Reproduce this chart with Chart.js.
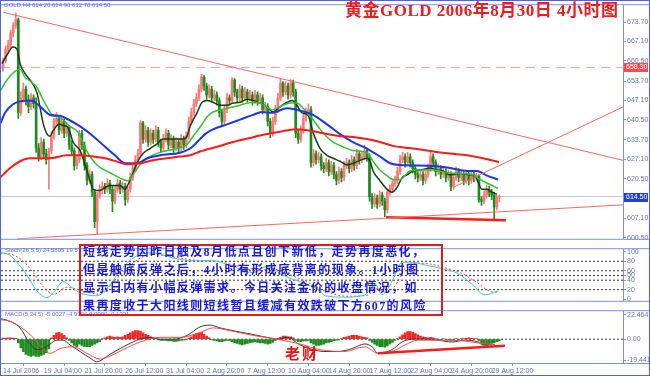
<!DOCTYPE html>
<html>
<head>
<meta charset="utf-8">
<script src="https://cdn.jsdelivr.net/npm/chart.js@4.4.1/dist/chart.umd.min.js"></script>
<style>
  html, body { margin: 0; padding: 0; background: #fff; }
  #wrap { position: relative; width: 650px; height: 376px; overflow: hidden; background: #fff; }
  #wrap canvas { position: absolute; left: 0; }
  .t { position: absolute; white-space: nowrap; }
  .small { font: 6px "Liberation Sans", sans-serif; color: #6575b8; line-height: 8px; }
  #title { left: 345px; top: 2px; font: bold 17px/17px "Liberation Serif", "Noto Sans CJK SC", serif; color: #ee1c1c; letter-spacing: 0.5px; }
  #note { left: 79px; top: 244px; width: 360px; height: 68px; border: 2px solid #e51a1a; }
  .line { font: bold 12px/14px "Liberation Serif", "Noto Sans CJK SC", serif; color: #1a1ad6; letter-spacing: 1.4px; left: 83px; }
  #sign { left: 285px; top: 345px; font: bold 15px/16px "Noto Sans CJK SC", sans-serif; color: #ee1010; letter-spacing: 2px; }
  #frame { position: absolute; left: 0; top: 0; width: 648px; height: 374px; border: 1px solid #4b63e8; pointer-events: none; }
</style>
</head>
<body>
<div id="wrap">
  <canvas id="mainChart" width="650" height="244" style="top:0"></canvas>
  <canvas id="stochChart" width="650" height="62" style="top:244px"></canvas>
  <canvas id="macdChart" width="650" height="70" style="top:306px"></canvas>

  <div class="t small" style="left:4px;top:1px">GOLD,H4 614.20 614.90 612.70 614.50</div>
  <div class="t" id="title">黄金GOLD 2006年8月30日 4小时图</div>
  <div class="t small" style="left:5px;top:246px;width:73px;overflow:hidden">Stoch(26,5,5) 24.5805 19.5053</div>
  <div class="t small" style="left:5px;top:310px">MACD(5,34,5) -5.0027 -4.9304 0.0000 -0.1331</div>
  <div class="t" id="note"></div>
  <div class="t line" style="top:245px">短线走势因昨日触及8月低点且创下新低，走势再度恶化，</div>
  <div class="t line" style="top:263px">但是触底反弹之后，4小时有形成底背离的现象。1小时图</div>
  <div class="t line" style="top:281px">显示日内有小幅反弹需求。今日关注金价的收盘情况，如</div>
  <div class="t line" style="top:299px">果再度收于大阳线则短线暂且缓减有效跌破下方607的风险</div>
  <div class="t" id="sign">老财</div>
  <div id="frame"></div>
</div>

<script>
// ---- 数据 ----
// K线 [开, 高, 低, 收]，每根4小时
const candles = [
  [658,661.5,657,660.5],[660.5,665.5,659.8,664.5],[664.5,667.5,663,666],[666,671,665,670],
  [670,673.5,668.5,672.5],[672.5,676.7,671.5,674.5],[674.5,675,641,643],[643,650,642,648],
  [648,653,646.5,651],[651,652,645.5,647],[647,649,643,645],[645,649.5,644,648],
  [648,649,644.5,646],[646,648,629.5,631],[631,632.5,626.5,628],[628,634.5,627,633],
  [633,634,627.5,629],[629,630.5,625.5,627],[627,631,617,630],[630,636.5,629,635],
  [635,641,634,640],[640,643,638.5,641],[641,642,635.5,637],[637,641.5,636,640],
  [640,641,634.5,636],[636,639.5,635,638],[638,638.5,630.5,632],[632,633.5,628.5,630],
  [630,631,623.5,625],[625,628.5,624,627],[627,637,626,636],[636,637,630.5,632],
  [632,633,623.5,625],[625,626,618.5,620],[620,623.5,619,622],[622,623,614.5,616],
  [616,617,604,606],[606,616,601.9,615],[615,618.5,614,617],[617,619.5,615.5,618],
  [618,619,615.5,617],[617,620.5,616,619],[619,620,615.5,617],[617,618,609.4,613],
  [613,618,612,617],[617,620.5,616,619],[619,620,615.5,617],[617,619.5,616,618],
  [618,619,611.5,613.5],[613.5,618,612.5,617],[617,622.5,616,621],[621,625.5,620,624],
  [624,628.5,623,627],[627,630.5,626,629],[629,640.2,628.5,639.5],[639.5,640,632.5,634],
  [634,638.5,633,637],[637,638,631.5,633],[633,637.5,632,636],[636,637,632.5,634],
  [634,638.5,633,637],[637,638,631.5,633],[633,634,629.5,631],[631,635.5,630,634],
  [634,637.5,633,636],[636,637,630.5,632],[632,635.5,631,634],[634,635,629.5,631],
  [631,634.5,630,633],[633,634,629.5,631],[631,635.5,630,634],[634,635,630.5,632],
  [632,636.5,631,635],[635,641.5,634,640],[640,644.5,639,643],[643,647.5,642,646],
  [646,649.5,645,648],[648,652.5,647,651],[651,656,650,655],[655,655.5,650.5,652],
  [652,653,647.5,649],[649,652.5,648,651],[651,652,646.5,648],[648,650.5,647,649],
  [649,650,645.5,647],[647,648,641.5,643],[643,644,638.5,640],[640,645.5,639,644],
  [644,649.5,643,648],[648,649,645.5,647],[647,654.8,646,654],[654,654.5,648.5,650],
  [650,651,646.5,648],[648,652.5,647,651],[651,652,646.5,648],[648,651.5,647,650],
  [650,651,646.5,648],[648,650.5,647,649],[649,650,645.5,647],[647,650.5,646,649],
  [649,650,645.5,647],[647,649.5,646,648],[648,649,642.5,644],[644,646.5,643,645],
  [645,646,638.5,640],[640,641,634.5,636],[636,641.5,635,640],[640,645.5,639,644],
  [644,649.5,643,648],[648,654.7,647,653],[653,653.5,648.5,650],[650,653.5,649,652],
  [652,653,647.5,649],[649,654.2,648,653],[653,654,648.5,650],[650,651,634.5,636],
  [636,637,632.5,634],[634,638.5,633,637],[637,642.5,636,641],[641,644.5,640,643],
  [643,646,642,644],[644,645,624.5,626],[626,630.5,625,629],[629,630,625.5,627],
  [627,629.5,626,628],[628,629,623.5,625],[625,626,622.5,624],[624,627.5,623,626],
  [626,627,621.5,623],[623,626.5,622,625],[625,626,620.5,622],[622,623,618.5,620],
  [620,624.5,619,623],[623,624,619.5,621],[621,626.5,620,625],[625,627.5,624,626],
  [626,627,622.5,624],[624,628.5,623,627],[627,628,623.5,625],[625,630.5,624,629],
  [629,630,625.5,627],[627,629.5,626,628],[628,632,627,630],[630,631,626.5,628],
  [628,629,613,614.5],[614.5,615.5,610.5,612],[612,615.5,611,614],[614,615,610.5,612],
  [612,616.5,611,615],[615,616,611.5,613],[613,614,607.7,610],[610,617,609,616],
  [616,618.5,615,617],[617,620.5,616,619],[619,621.5,618,620],[620,624.5,619,623],
  [623,628.5,622,627],[627,629.5,626,628],[628,629,624.5,626],[626,629.5,625,628],
  [628,629,624.5,626],[626,627,622.5,624],[624,625,620.5,622],[622,623,619.5,621],
  [621,623.5,620,622],[622,623,618.5,620],[620,623.5,619,622],[622,625.5,621,624],
  [624,629.5,623,628],[628,629,624.5,626],[626,627,621.5,623],[623,625.5,622,624],
  [624,625,620.5,622],[622,624.5,621,623],[623,624,619.5,621],[621,623.5,620,622],
  [622,623,616.5,618],[618,622.5,617,621],[621,624.5,620,623],[623,624,619.5,621],
  [621,623.5,620,622],[622,623,618.5,620],[620,623.5,619,622],[622,623,618.5,620],
  [620,623.5,619,622],[622,623,619.5,621],[621,622.5,620,621.5],[621.5,622,612.5,613.5],
  [613.5,614.5,611.5,613],[613,616.5,612,615],[615,618.5,614,617],[617,618,614.5,616],
  [616,617,613.5,615],[615,616,606.7,611],[611,615,610,614.2],[614.2,614.9,612.7,614.5]
];

// 均线 [K线序号, 价格]
const maFast = [
  [-0.4,659.6],[1.6,662.6],[3.9,665.2],[5.5,664.5],[6.7,659.6],[8.6,656.3],[11.4,653.1],[13.4,649.5],
  [14.5,644.9],[15.7,639.6],[17.3,635.7],[18.5,635],[19.6,636.7],[21.2,638.6],[22.4,639],[23.6,638.6],
  [25.1,638.3],[26.3,636.3],[27.5,633],[30.3,630.1],[31.4,627.5],[33,623.2],[34.2,619.9],[35.4,617],
  [36.9,616.6],[38.1,616.6],[40.1,617.6],[42,618.3],[46,618.3],[47.9,617],[49.1,618.6],[51.1,622.6],
  [53,626.5],[55,629.1],[57.8,630.8],[60.5,632.4],[62.9,634],[65.6,634],[68.4,634],[70.7,634],
  [72.3,635],[73.5,638.3],[76.2,642.9],[78.2,646.5],[80.2,647.1],[82.5,646.5],[85.3,645.5],[88,645.5],
  [90.4,646.2],[93.1,646.5],[95.9,647.5],[98.2,647.1],[101,646.2],[103.7,644.9],[106.1,643.2],[108.8,644.9],
  [111.6,646.5],[113.6,647.1],[115.5,645.5],[117.5,642.9],[119.8,642.2],[121.8,636.3],[124.6,630.8],[127.3,628.5],
  [129.7,627.5],[132.4,626.5],[135.2,625.2],[137.5,625.8],[140.3,626.8],[143,627.5],[144.2,626.5],[145.4,623.2],
  [148.1,619.9],[150.9,617],[152.8,616],[154.8,617.6],[156.8,620.9],[158.7,621.9],[161.1,623.2],[163.9,623.5],
  [167.8,624.2],[170.5,623.5],[172.9,623.2],[175.6,621.9],[179.6,622.3],[183.5,621.9],[185.5,621.6],[186.7,619.3],
  [188.2,617],[190.2,617],[192.1,616],[194.1,615.3]
];
const maMid = [
  [-1,650.4],[0.8,653.1],[2.8,655.4],[4.7,657],[6.7,657.7],[8.6,655],[10.6,653.7],[13.4,651.4],
  [15.3,648.1],[17.3,644.9],[19.3,642.2],[22.4,641.3],[26.3,638.3],[29.5,636.3],[33,629.8],[36.9,625.2],
  [42,622.6],[47.2,620.3],[49.1,619.9],[51.1,621.9],[53.8,625.2],[57.8,628.1],[62.9,629.8],[69.5,631.1],
  [72.3,632.1],[74.7,635],[77.4,638],[80.2,641.6],[82.5,643.2],[85.3,643.9],[88,644.5],[90.4,644.9],
  [93.1,645.5],[95.9,646.2],[98.2,646.5],[101,646.2],[103.7,644.9],[105.7,643.9],[107.7,644.5],[110,645.5],
  [112.8,646.2],[115.5,646.2],[117.5,644.9],[119.4,642.9],[121.8,640.6],[124.6,637.3],[127.3,634.7],[129.7,633],
  [133.6,631.4],[137.5,630.1],[141.5,629.8],[143.4,629.1],[145.4,626.5],[148.1,623.5],[150.9,621.6],[153.2,620.3],
  [156,620.3],[159.9,623.2],[163.9,623.5],[168.9,623.5],[174.5,622.6],[179.6,622.3],[184.7,621.9],[187.4,620.3],
  [191.4,618.6],[194.5,617.3]
];
const maSlow = [
  [-1,639.3],[0.8,642.9],[3.9,645.8],[6.7,646.8],[10.6,647.1],[12.6,646.5],[15.3,644.5],[18.5,642.2],
  [22.4,641.9],[25.1,640.9],[30.3,638.3],[35.4,635],[40.1,631.4],[44,628.5],[47.9,625.8],[52.7,625.8],
  [56.6,627.5],[61.7,628.5],[69.5,629.4],[73.5,630.8],[77.4,634],[79.4,635.7],[82.5,637.3],[88,639],
  [93.1,640.6],[98.2,642.2],[101.8,643.2],[105.7,642.9],[111.6,644.5],[115.5,643.9],[118.7,643.2],[121.8,642.2],
  [127.3,639],[132.4,635.7],[137.5,633],[143,630.8],[148.1,628.1],[152.1,625.8],[156,625.2],[169,624.9],
  [175.6,624.2],[182.3,623.2],[186.2,623.2],[190.2,621.6],[194.5,620.3]
];
const maLong = [
  [-1.2,620.9],[2.8,624.2],[6.7,626.5],[10.6,627.5],[18.5,627.5],[25.1,628.5],[30.3,628.5],[35.4,628.1],
  [40.1,627.5],[43.2,626.8],[48.7,625.5],[53.8,625.8],[58.9,626.8],[64.4,627.5],[69.5,628.1],[73.5,628.5],
  [77.4,629.8],[84.1,631.4],[90.4,633],[97.1,634.4],[103.7,635.7],[110,636.7],[115.5,637.3],[121.8,636.7],
  [127.3,635.7],[132.4,635],[137.5,634.7],[143,634],[148.1,633],[153.2,631.7],[158,631.1],[161.1,630.8],
  [168.9,629.8],[175.6,629.1],[182.3,628.5],[188.6,627.5],[194.9,626.2]
];

// 趋势线 [K线序号, 价格]
const trendDown = [[0, 677.0], [243.6, 626.8]];
const trendUp = [[5.5, 600.2], [243.6, 611.7]];
const trendSteep = [[176.8, 617.6], [243.6, 644.9]];
const supportLine = [[150.5, 607.5], [197.6, 606.5]];
const lastPrice = 614.5;
const dashPrice = 658.3;

// 价格刻度
const priceTicks = [673.7, 667.1, 660.5, 653.7, 647.1, 640.5, 633.7, 627.1, 620.5, 613.9, 607.1, 600.5];

// 随机指标
const stochMain = [
  [-1,98],[1.6,96],[5.5,78],[9.4,50],[13.4,17],[17.3,3],[20,15],[23.6,37],[27,25],[30.3,13],[36.9,7],
  [42,30],[46,60],[51.1,87],[57.8,98],[62,95],[66.8,87],[74.7,81],[82.5,81],[90.4,69],[98.2,56],
  [103.7,69],[110,50],[116.7,37],[124.6,17],[126.5,7],[134.4,4],[142.2,9],[146.2,31],[148.9,9],
  [152.8,37],[156.8,78],[160.7,78],[165.8,72],[173.7,63],[178.8,54],[184.3,31],[189.4,9],[194.5,17]
];
const stochSignal = [
  [-1,97],[3,95],[8,80],[12,55],[16,25],[20,10],[25,25],[31,18],[38,10],[44,40],[52,80],[58,95],
  [68,88],[76,82],[84,80],[92,70],[100,60],[106,64],[112,52],[118,40],[126,18],[135,6],[143,8],
  [147,22],[150,15],[154,28],[158,65],[162,76],[168,74],[175,64],[180,55],[186,36],[191,17],[195,14]
];
const stochTicks = [100, 80, 60, 50, 40, 20, 0];
const stochLevels = [80, 60, 50, 40, 20];

// MACD 柱状图（每根K线）
const macdHist = [
  1,1,1.2,1.2,1,0.8,
  -3.5,-8,-11.5,-14,-15,-16,-15,-16,-16,-15,-14,-12.5,-9,
  1.2,3.5,5.8,6.3,5.2,3.5,1.2,
  -1.2,-3.5,-5.8,-7,-4.6,-5.8,-7,-7,-7,-5.8,-4.6,-3.5,-2.3,
  0.6,1.2,2.3,2.9,2.3,1.7,2.3,1.7,
  2.3,3.5,4.6,5.8,7,8,8,7.5,5.8,4.6,
  3.5,2.3,1.2,0.6,-0.6,-1.2,-1.2,-1.2,
  -1.7,-1.7,-2,-2,-1.7,-1.2,-1,-0.6,
  1.2,2.3,4,5.2,5.8,6.3,4.6,2.9,
  1.2,-0.6,-1.2,-1.7,-2.3,-2.3,-1.7,-1.2,
  -1.2,-2.3,-3.5,-4,-4.6,-5.2,-4.6,-4,-3.5,-2.9,
  -2.3,-2.9,-3.5,-3.5,-4,-4.6,-4,-2.9,
  -1.2,0.6,1.7,2.9,2.9,2.3,2.3,
  1.2,-1.2,-2.3,-2.3,-1.7,-1.7,-1.2,-3.5,-4.6,-5.8,-5.8,-5.2,-4.6,
  -3.5,-2.9,-2.3,-1.7,
  -1.2,-0.6,0.6,1.7,2.3,2.9,3.5,3.5,3.5,2.9,2.3,1.7,1.2,
  -1.2,-2.9,-4.6,-5.8,-7,-7,-7.5,-6.3,-4.6,-2.9,-1.2,
  0.6,2.3,4,5.8,7,7,6.3,5.2,4,2.9,2.3,
  1.7,1.2,1.7,1.2,
  0.6,-0.6,-0.6,0.6,-0.6,-0.6,-1.2,-0.6,
  0.6,-0.4,0.6,0.6,0.9,1.2,0.9,
  0.6,0.4,-1.7,-3.5,-5.2,-5.8,-5.2,-4,
  -3.5,-2.3,-1.7
];
const macdMain = [
  [-1,19],[1.6,17.5],[6.7,10.5],[10.6,-4.4],[13.4,-9.7],[15.7,-8.7],[18.5,-4.4],[21.2,-0.9],[23.6,-0.9],
  [26.3,-5.3],[30.3,-11.4],[34.2,-17.5],[36.9,-21],[39.3,-18.4],[42,-14],[46,-8.7],[48.7,-5.3],[53.8,0],
  [57.8,1.7],[61.7,0],[66.8,0],[72.3,3.5],[77.4,11.4],[81.3,13.1],[85.3,10.5],[90.4,7.9],[98.2,4.4],
  [103.7,1.7],[108.8,0],[111.6,1.7],[116.7,-5.3],[121.8,-9.7],[126.5,-11.4],[131.6,-11.4],[137.1,-8.7],
  [142.2,-4.4],[145,-7],[147.3,-13.1],[152.8,-9.7],[156.8,-2.6],[160.7,0],[165.8,0],[170.9,-0.9],
  [176.4,-2.6],[181.5,-0.9],[186.6,-2.6],[188.6,-5.3],[190.6,-5.3],[193.3,-5]
];
const macdSignal = [
  [-1,18],[2.8,16.7],[10.6,4.4],[15.7,-8.7],[18.5,-13.1],[22.4,-8.7],[27.5,-7],[33,-13.1],[38.1,-18.4],
  [42,-15.8],[47.2,-9.7],[53.8,-2.6],[61.7,1.7],[69.5,1.7],[77.4,6.1],[82.5,10.5],[89.2,7.9],[98.2,3.5],
  [107.7,0],[116.7,-4.4],[124.6,-9.7],[134.4,-11.4],[142.2,-7],[147.3,-13.1],[152.8,-11.4],[158,-5.3],
  [163.1,-0.9],[170.9,-0.9],[181.5,-1.7],[189.4,-4.4],[193.3,-4.9]
];
const macdTrend = [[147.3, -13.1], [197.2, -6.1]];
const macdTicks = [22.4645, 0, -19.4418];
const macdTickLabels = ["22.4645", "0.00", "-19.4418"];

// 时间轴
const timeTicks = [0, 16, 32, 48, 64, 80, 96, 112, 128, 144, 160, 176, 192];
const timeLabels = [
  "14 Jul 2006", "19 Jul 04:00", "21 Jul 20:00", "26 Jul 12:00", "31 Jul 04:00", "2 Aug 20:00",
  "7 Aug 12:00", "10 Aug 04:00", "14 Aug 20:00", "17 Aug 12:00", "22 Aug 04:00", "24 Aug 20:00", "29 Aug 12:00"
];

// ---- 样式 ----
const X_MIN = -0.8, X_MAX = 243.6;
const FRAME = "#7d90f0";
const AXIS_TXT = "#6575b8";
const UP = "#ff7878";
const DOWN = "#1f8a1f";
const tickFont = { family: "Liberation Sans", size: 7 };

const pts = (arr) => arr.map(([x, y]) => ({ x, y }));
const lineDs = (data, color, width, extra) =>
  Object.assign({ type: "line", data: pts(data), borderColor: color, borderWidth: width,
    pointRadius: 0, fill: false, tension: 0, order: 5 }, extra || {});
const hLine = (v, color, dash, order) =>
  lineDs([[X_MIN, v], [X_MAX, v]], color, 1, { borderDash: dash, order: order });

// 面板边框线
const panelFrame = {
  id: "panelFrame",
  afterDraw(chart) {
    const { ctx, chartArea } = chart;
    ctx.save();
    ctx.strokeStyle = FRAME;
    ctx.lineWidth = 1;
    ctx.beginPath();
    ctx.moveTo(0, chartArea.top - 0.5);
    ctx.lineTo(chart.width, chartArea.top - 0.5);
    ctx.moveTo(0, chartArea.bottom + 0.5);
    ctx.lineTo(chart.width, chartArea.bottom + 0.5);
    ctx.stroke();
    ctx.restore();
  },
};

// 右侧价格标签
const priceTags = {
  id: "priceTags",
  afterDraw(chart) {
    const { ctx, chartArea } = chart;
    const y = chart.scales.y;
    [[lastPrice, "#2440d0"], [dashPrice, "#ff4a4a"]].forEach(([p, bg]) => {
      const py = Math.round(y.getPixelForValue(p));
      ctx.fillStyle = bg;
      ctx.fillRect(chartArea.right + 1, py - 4, 24, 9);
      ctx.fillStyle = "#fff";
      ctx.font = "7px Liberation Sans";
      ctx.textBaseline = "middle";
      ctx.fillText(p.toFixed(2), chartArea.right + 3, py + 0.5);
    });
  },
};

const yAxisBase = (extra) => Object.assign({
  position: "right",
  afterFit(s) { s.width = 27; },
  border: { display: true, color: FRAME },
  grid: { drawOnChartArea: false, drawTicks: true, tickLength: 3, color: FRAME },
  ticks: { font: tickFont, color: AXIS_TXT, padding: 1, autoSkip: false },
}, extra);

const xHidden = { type: "linear", min: X_MIN, max: X_MAX, offset: false, display: false };

const baseOptions = (scales, padding) => ({
  responsive: false,
  animation: false,
  layout: { padding },
  plugins: { legend: { display: false }, tooltip: { enabled: false } },
  scales,
});

// 主图
const wickData = candles.map((c, i) => ({ x: i, y: [c[2], c[1]] }));
const bodyData = candles.map((c, i) => ({ x: i, y: [Math.min(c[0], c[3]), Math.max(c[0], c[3])] }));
const candleColor = candles.map((c) => (c[3] >= c[0] ? UP : DOWN));

new Chart(document.getElementById("mainChart"), {
  type: "bar",
  data: {
    datasets: [
      { type: "bar", data: wickData, backgroundColor: candleColor, barThickness: 1, grouped: false, order: 20 },
      { type: "bar", data: bodyData, backgroundColor: candleColor, barThickness: 2, grouped: false, order: 19 },
      hLine(lastPrice, "#c8c8c8", [], 30),
      hLine(dashPrice, "#ff9c9c", [9, 6], 30),
      lineDs(maLong, "#ff1a1a", 2, { cubicInterpolationMode: "monotone" }),
      lineDs(maSlow, "#1f35e6", 2, { cubicInterpolationMode: "monotone" }),
      lineDs(maMid, "#35c035", 1.5, { cubicInterpolationMode: "monotone" }),
      lineDs(maFast, "#173d17", 1.5, { cubicInterpolationMode: "monotone" }),
      lineDs(trendDown, "#ff6464", 1, { order: 2 }),
      lineDs(trendUp, "#ff6464", 1, { order: 2 }),
      lineDs(trendSteep, "#ff6464", 1, { order: 2 }),
      lineDs(supportLine, "#ff1a1a", 2.5, { order: 2 }),
    ],
  },
  options: baseOptions({
    x: xHidden,
    y: yAxisBase({
      min: 600.2, max: 679.4,
      afterBuildTicks(s) { s.ticks = priceTicks.map((v) => ({ value: v })); },
      ticks: { font: tickFont, color: AXIS_TXT, padding: 1, autoSkip: false, callback: (v) => v.toFixed(2) },
    }),
  }, { left: 1, top: 2, right: 0, bottom: 1 }),
  plugins: [panelFrame, priceTags],
});

// 随机指标
new Chart(document.getElementById("stochChart"), {
  type: "line",
  data: {
    datasets: [
      ...stochLevels.map((v) => hLine(v, "#333", [2, 2], 30)),
      lineDs(stochSignal, "#ff3a3a", 1, { borderDash: [2, 2], cubicInterpolationMode: "monotone" }),
      lineDs(stochMain, "#3cc8c0", 1, { cubicInterpolationMode: "monotone", order: 4 }),
    ],
  },
  options: baseOptions({
    x: xHidden,
    y: yAxisBase({
      min: -3.7, max: 105.6,
      afterBuildTicks(s) { s.ticks = stochTicks.map((v) => ({ value: v })); },
    }),
  }, { left: 1, top: 1, right: 0, bottom: 2 }),
  plugins: [panelFrame],
});

// MACD
new Chart(document.getElementById("macdChart"), {
  type: "bar",
  data: {
    datasets: [
      {
        type: "bar",
        data: macdHist.map((v, i) => ({ x: i, y: v })),
        backgroundColor: macdHist.map((v) => (v >= 0 ? "#f02828" : "#208c20")),
        barThickness: 2, grouped: false, order: 20,
      },
      hLine(0, "#333", [2, 2], 25),
      lineDs(macdSignal, "#ff4a4a", 1, { cubicInterpolationMode: "monotone" }),
      lineDs(macdMain, "#3a3a3a", 1, { cubicInterpolationMode: "monotone" }),
      lineDs(macdTrend, "#ff1a1a", 2.5, { order: 2 }),
    ],
  },
  options: baseOptions({
    x: {
      type: "linear", min: X_MIN, max: X_MAX, offset: false,
      afterFit(s) { s.height = 13; },
      afterBuildTicks(s) { s.ticks = timeTicks.map((v) => ({ value: v })); },
      border: { display: true, color: FRAME },
      grid: { drawOnChartArea: false, drawTicks: true, tickLength: 3, color: FRAME },
      ticks: {
        font: tickFont, color: AXIS_TXT, padding: 1, autoSkip: false, maxRotation: 0, align: "start",
        callback: (v, i) => timeLabels[i],
      },
    },
    y: yAxisBase({
      min: -22.06, max: 25.96,
      afterBuildTicks(s) { s.ticks = macdTicks.map((v) => ({ value: v })); },
      ticks: { font: tickFont, color: AXIS_TXT, padding: 1, autoSkip: false, callback: (v, i) => macdTickLabels[i] },
    }),
  }, { left: 1, top: 1, right: 0, bottom: 0 }),
  plugins: [panelFrame],
});
</script>
</body>
</html>
